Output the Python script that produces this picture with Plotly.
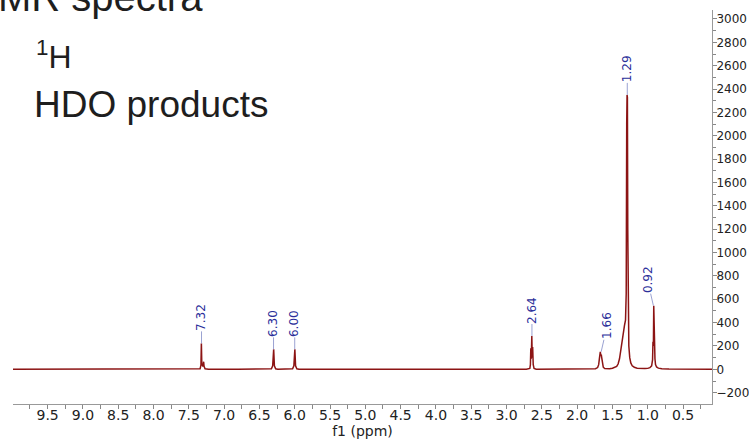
import plotly.graph_objects as go

# ---------------- data ----------------
ppm = [10.00, 9.00, 8.00, 7.50, 7.40, 7.34, 7.328, 7.322, 7.316, 7.300, 7.290, 7.284, 7.270, 7.22,
       6.80, 6.36, 6.33, 6.312, 6.302, 6.298, 6.288, 6.27, 6.24,
       6.06, 6.03, 6.012, 6.002, 5.998, 5.988, 5.97, 5.94,
       5.00, 4.00, 3.00, 2.72, 2.67, 2.662, 2.656, 2.650, 2.642, 2.636, 2.630, 2.622, 2.61, 2.58,
       2.20, 1.80, 1.74, 1.71, 1.695, 1.683, 1.672, 1.665, 1.658, 1.652, 1.642, 1.63, 1.61, 1.58,
       1.54, 1.50, 1.47, 1.44, 1.42, 1.40, 1.38, 1.36, 1.345, 1.33, 1.315, 1.305, 1.298, 1.293,
       1.288, 1.283, 1.277, 1.268, 1.255, 1.24, 1.22, 1.19, 1.15, 1.10, 1.04,
       1.00, 0.97, 0.945, 0.932, 0.926, 0.920, 0.915, 0.910, 0.904, 0.898, 0.890, 0.875, 0.85,
       0.80, 0.70, 0.50, 0.09]
intensity = [0, 0, 0, 0, 1, 5, 35, 222, 45, 25, 65, 25, 5, 1,
             0, 1, 5, 30, 171, 171, 30, 5, 1,
             1, 5, 30, 171, 171, 30, 5, 1,
             0, 0, 0, 1, 8, 40, 180, 90, 285, 100, 190, 40, 8, 1,
             0, 1, 5, 15, 40, 100, 150, 120, 125, 100, 45, 18, 6, 3,
             5, 9, 14, 25, 45, 90, 170, 270, 340, 375, 420, 650, 2100, 2350,
             2330, 1200, 420, 200, 100, 55, 30, 18, 10, 7, 6,
             8, 14, 30, 80, 235, 200, 545, 230, 250, 90, 40, 20, 10,
             5, 2, 0, 0]

peak_labels = ["7.32", "6.30", "6.00", "2.64", "1.66", "1.29", "0.92"]
peak_ppm = [7.32, 6.30, 6.00, 2.64, 1.66, 1.29, 0.92]
label_dx = [0, 0, 0, 0, 6, 0, -6]   # horizontal shift of the label text, px

y_tickvals = list(range(-200, 3001, 200))

# ---------------- layout geometry ----------------
W, H = 749, 443
ml, mr, mt, mb = 13, 37, 10, 39
pw, ph = W - ml - mr, H - mt - mb


def px_x(px):
    return (px - ml) / pw


def px_y(py):
    return (H - mb - py) / ph


fig = go.Figure()
fig.add_trace(go.Scatter(x=ppm, y=intensity, mode="lines",
                         line=dict(color="#8c1414", width=1.5),
                         hoverinfo="skip", showlegend=False))

annotations = []
for lab, p, dx in zip(peak_labels, peak_ppm, label_dx):
    top = max(v for x, v in zip(ppm, intensity) if abs(x - p) <= 0.035)
    annotations.append(dict(
        x=p, y=top, xref="x", yref="y", text=lab, textangle=-90,
        showarrow=True, arrowhead=0, arrowwidth=1, arrowcolor="#9aa2d2",
        ax=dx, ay=-26, standoff=0, borderpad=0,
        font=dict(family="DejaVu Sans", size=12, color="#2b2f9a")))

text_font = "Liberation Sans"
annotations += [
    dict(text="NMR spectra", xref="paper", yref="paper", x=px_x(-33), y=px_y(-3),
         xanchor="left", yanchor="middle", showarrow=False,
         font=dict(family=text_font, size=40, color="#1e1e1e")),
    dict(text="<sup>1</sup>H", xref="paper", yref="paper", x=px_x(34), y=px_y(55),
         xanchor="left", yanchor="middle", showarrow=False,
         font=dict(family=text_font, size=32, color="#1e1e1e")),
    dict(text="HDO products", xref="paper", yref="paper", x=px_x(32), y=px_y(104),
         xanchor="left", yanchor="middle", showarrow=False,
         font=dict(family=text_font, size=37, color="#1e1e1e")),
]

fig.update_layout(
    width=W, height=H,
    margin=dict(l=ml, r=mr, t=mt, b=mb, pad=0),
    paper_bgcolor="white", plot_bgcolor="white",
    annotations=annotations,
    xaxis=dict(range=[9.99, 0.09], tickmode="linear", tick0=0.5, dtick=0.5,
               tickformat=".1f", ticks="outside", ticklen=4, tickcolor="#888",
               minor=dict(dtick=0.25, tick0=0, ticks="outside", ticklen=4, tickcolor="#888"),
               showline=True, linecolor="#999", linewidth=1,
               showgrid=False, zeroline=False, automargin=False,
               ticklabelstandoff=-6,
               tickfont=dict(family="DejaVu Sans", size=14, color="#222"),
               title=dict(text="f1 (ppm)", standoff=0,
                          font=dict(family="DejaVu Sans", size=14, color="#222"))),
    yaxis=dict(range=[-297, 3077], side="right", tickmode="array", tickvals=y_tickvals,
               ticks="outside", ticklen=4, tickcolor="#888",
               minor=dict(dtick=100, tick0=0, ticks="outside", ticklen=3, tickcolor="#888"),
               showline=True, linecolor="#999", linewidth=1,
               showgrid=False, zeroline=False, automargin=False,
               ticklabelstandoff=-3,
               tickfont=dict(family="DejaVu Sans", size=12, color="#222")),
)

# remove the browser's default 8px page margin so the figure sits at the window origin
fig.write_html("out.html", config={"displayModeBar": False},
               post_script="document.body.style.margin='0px';")
